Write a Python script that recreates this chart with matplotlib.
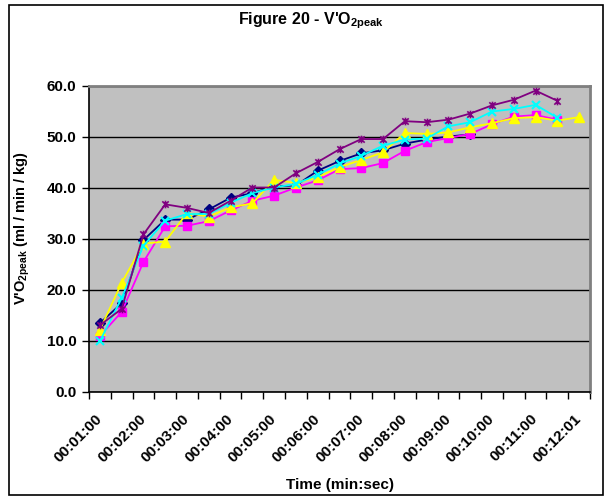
import numpy as np
import matplotlib
matplotlib.use("Agg")
import matplotlib.pyplot as plt
from matplotlib.path import Path
from matplotlib.patches import Rectangle

plt.rcParams['font.family'] = ['Liberation Sans', 'DejaVu Sans']
plt.rcParams['mathtext.fontset'] = 'custom'
plt.rcParams['mathtext.rm'] = 'Liberation Sans'
plt.rcParams['mathtext.bf'] = 'Liberation Sans:bold'

nan = np.nan
times = ["00:01:00", "00:01:30", "00:02:00", "00:02:30", "00:03:00", "00:03:30",
         "00:04:00", "00:04:30", "00:05:00", "00:05:30", "00:06:00", "00:06:30",
         "00:07:00", "00:07:30", "00:08:00", "00:08:30", "00:09:00", "00:09:30",
         "00:10:00", "00:10:30", "00:11:00", "00:11:30", "00:12:01"]

s_navy = [13.4, 17.3, 29.7, 33.7, 33.7, 35.7, 38.0, 38.9, 40.2, 40.4, 43.3, 45.2,
          46.7, 47.3, 48.6, 49.4, 50.0, 50.4, nan, nan, nan, nan, nan]
s_magenta = [10.9, 15.6, 25.4, 32.4, 32.5, 33.4, 35.5, 37.4, 38.4, 40.0, 41.4, 43.6,
             43.8, 44.8, 47.2, 48.9, 49.7, 50.5, 52.4, 53.9, 54.2, 53.3, nan]
s_yellow = [12.1, 21.3, 29.0, 29.4, 35.0, 34.3, 36.1, 36.9, 41.5, 40.9, 42.0, 44.0,
            45.4, 46.9, 50.7, 50.5, 50.8, 51.8, 52.6, 53.6, 53.8, 53.1, 53.8]
s_cyan = [9.9, 18.3, 28.6, 33.5, 34.8, 34.8, 37.0, 38.9, 40.0, 40.7, 42.5, 44.7,
          46.2, 48.2, 49.4, 49.6, 52.0, 52.8, 54.9, 55.4, 56.2, 53.7, nan]
s_purple = [13.0, 16.2, 30.8, 36.7, 36.0, 35.0, 37.4, 40.0, 40.0, 42.8, 45.0, 47.5,
            49.5, 49.5, 53.0, 52.8, 53.3, 54.5, 56.1, 57.2, 59.0, 57.0, nan]

yticks = [0, 10, 20, 30, 40, 50, 60]

W, H = 608, 497
fig = plt.figure(figsize=(W / 100, H / 100), dpi=100)
fig.patch.set_facecolor('white')

# outer chart border
fig.patches.append(Rectangle((9 / W, 1 - 495 / H), (603 - 9) / W, (495 - 4.5) / H,
                             transform=fig.transFigure, fill=False,
                             edgecolor='black', linewidth=1.2))

left, right, top, bottom = 89, 590, 85.5, 391.5
ax = fig.add_axes([left / W, 1 - bottom / H, (right - left) / W, (bottom - top) / H])
ax.set_facecolor('#C0C0C0')

x = np.arange(len(times))

star = Path([(-1, -1), (1, 1), (-1, 1), (1, -1), (0, -1.2), (0, 1.2)],
            [Path.MOVETO, Path.LINETO, Path.MOVETO, Path.LINETO, Path.MOVETO, Path.LINETO])

lw = 1.3
ax.plot(x, s_navy, color='#000080', lw=lw, marker='D', ms=5, mec='#000080', mfc='#000080', zorder=3)
ax.plot(x, s_magenta, color='#FF00FF', lw=lw, marker='s', ms=5.5, mec='#FF00FF', mfc='#FF00FF', zorder=3)
ax.plot(x, s_yellow, color='#FFFF00', lw=lw, marker='^', ms=7, mec='#FFFF00', mfc='#FFFF00', zorder=3)
ax.plot(x, s_cyan, color='#00FFFF', lw=lw, marker='x', ms=5.5, mew=1.5, mec='#00FFFF', zorder=3)
ax.plot(x, s_purple, color='#800080', lw=lw, marker=star, ms=5.5, mew=1.2, mec='#800080',
        mfc='none', zorder=3)

ax.set_xlim(-0.5, len(times) - 0.5)
ax.set_ylim(0, 60)

ax.set_yticks(yticks)
ax.set_yticklabels([f"{v:.1f}" for v in yticks], fontsize=11, fontweight='bold')
ax.yaxis.grid(True, color='black', linewidth=1.0)
ax.set_axisbelow(True)

ax.set_xticks(x[::2])
ax.set_xticklabels(times[::2], rotation=45, ha='right', va='center',
                   rotation_mode='anchor', fontsize=11, fontweight='bold')
ax.set_xticks(np.arange(-0.5, len(times) + 0.5, 1), minor=True)
ax.tick_params(axis='x', which='major', length=0, pad=18)
ax.tick_params(axis='x', which='minor', length=5, width=1, color='black', direction='out')
ax.tick_params(axis='y', length=5, width=1, color='black', direction='out', pad=4)

for s in ['left', 'bottom']:
    ax.spines[s].set_color('black')
    ax.spines[s].set_linewidth(1.2)
for s in ['top', 'right']:
    ax.spines[s].set_color('#808080')
    ax.spines[s].set_linewidth(2.0)

fig.text(311 / W, 1 - 21 / H, r"Figure 20 - V'O$_{\mathbf{2peak}}$", ha='center', va='center',
         fontsize=11.5, fontweight='bold')
fig.text(340 / W, 1 - 485 / H, "Time (min:sec)", ha='center', va='center',
         fontsize=11, fontweight='bold')
fig.text(22 / W, 1 - 228 / H, r"V'O$_{\mathbf{2peak}}$ (ml / min / kg)", ha='center', va='center',
         rotation=90, fontsize=10.5, fontweight='bold')

fig.savefig('out.png', dpi=100)
